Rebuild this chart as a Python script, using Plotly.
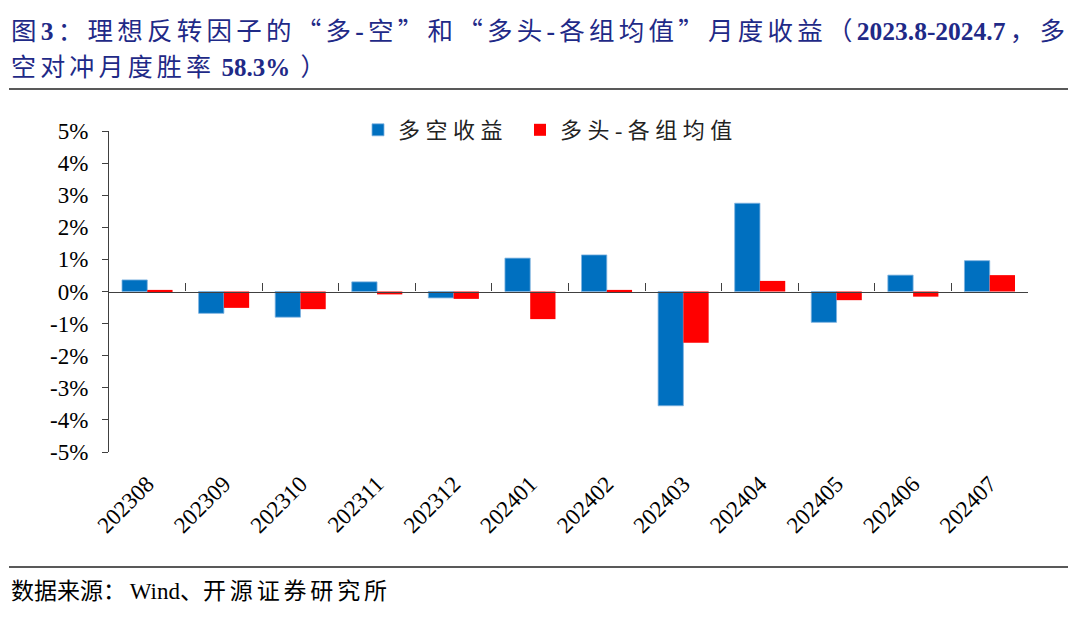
import plotly.graph_objects as go

months = ["202308", "202309", "202310", "202311", "202312", "202401",
          "202402", "202403", "202404", "202405", "202406", "202407"]
long_short = [0.36, -0.68, -0.80, 0.30, -0.20, 1.04, 1.14, -3.56, 2.75, -0.96, 0.51, 0.96]
long_minus_avg = [0.05, -0.51, -0.55, -0.09, -0.23, -0.86, 0.05, -1.60, 0.33, -0.27, -0.16, 0.51]
y_tickvals = [5, 4, 3, 2, 1, 0, -1, -2, -3, -4, -5]
y_ticktext = ["5%", "4%", "3%", "2%", "1%", "0%", "-1%", "-2%", "-3%", "-4%", "-5%"]
series_names = ["多 空 收 益", "多 头 - 各 组 均 值"]

# page body has an 8px margin: work in reference pixel coords and shift
OFF = 8
W, H = 1080 - OFF, 618 - OFF
PL, PR, PT, PB = 109, 1028, 131, 452          # plot area in reference pixels
L, R, T, B = PL - OFF, W - (PR - OFF), PT - OFF, H - (PB - OFF)
pw, ph = PR - PL, PB - PT

def px_x(p):
    return (p - PL) / pw

def px_y(p):
    return (PB - p) / ph

SERIF = "Liberation Serif, Times New Roman, Noto Sans CJK SC, serif"
CJK = "Liberation Serif, Noto Sans CJK SC, sans-serif"
NAVY = "#1F2A87"
SP = "\u2006"
QO = '<span style="font-family:\'Noto Sans CJK SC\'">“</span>'
QC = '<span style="font-family:\'Noto Sans CJK SC\'">”</span>'

fig = go.Figure()
fig.add_trace(go.Bar(x=months, y=long_short, name=series_names[0], legend="legend",
                     marker=dict(color="#0070C0", line=dict(width=0.8, color="#7FB3E0"))))
fig.add_trace(go.Bar(x=months, y=long_minus_avg, name=series_names[1], legend="legend2",
                     marker=dict(color="#FF0000", line=dict(width=0))))
fig.add_trace(go.Scatter(x=list(range(len(months))), y=[None] * len(months), xaxis="x2",
                         showlegend=False, hoverinfo="skip", mode="markers"))

leg_common = dict(orientation="h", yanchor="middle", y=px_y(130), xanchor="left",
                  font=dict(family=CJK, size=22, color="#222222"),
                  itemwidth=30, bgcolor="rgba(0,0,0,0)")

fig.update_layout(
    width=W, height=H,
    margin=dict(l=L, r=R, t=T, b=B),
    paper_bgcolor="white", plot_bgcolor="white",
    barmode="group", bargap=0.34, bargroupgap=0,
    showlegend=True,
    legend=dict(x=px_x(358), **leg_common),
    legend2=dict(x=px_x(520), **leg_common),
    xaxis=dict(type="category", categoryorder="array", categoryarray=months,
               range=[-0.5, len(months) - 0.5],
               anchor="free", position=0.5,
               showline=True, linecolor="#404040", linewidth=1.2,
               ticks="inside", tickson="boundaries", ticklen=8, tickcolor="#404040", tickwidth=1.2,
               showticklabels=False, showgrid=False, zeroline=False),
    xaxis2=dict(overlaying="x", anchor="y", side="bottom", type="linear",
                range=[-0.5, len(months) - 0.5],
                tickmode="array", tickvals=list(range(len(months))), ticktext=months,
                tickangle=-45, ticks="", showline=False, showgrid=False, zeroline=False,
                ticklabelstandoff=13,
                tickfont=dict(family=SERIF, size=23, color="black")),
    yaxis=dict(range=[-5, 5], tickmode="array", tickvals=y_tickvals, ticktext=y_ticktext,
               showline=True, linecolor="#404040", linewidth=1.2,
               ticks="outside", ticklen=6, tickcolor="#404040", tickwidth=1.2,
               showgrid=False, zeroline=False, ticklabelstandoff=9,
               tickfont=dict(family=SERIF, size=23, color="black")),
)

def spread(s):
    return SP.join(list(s))

title1 = SP.join([
    "图", "<b>3</b>", "：", spread("理想反转因子的"), QO, "多", "<b>-</b>", "空", QC, "和",
    QO, spread("多头"), "<b>-</b>", spread("各组均值"), QC, spread("月度收益"), "（",
    "<b>2023.8-2024.7</b>", "，", "多"])
title2 = SP.join([spread("空对冲月度胜率"), " <b>58.3%</b>", " ）"])
fig.add_annotation(text=title1, xref="paper", yref="paper", x=px_x(9), y=px_y(28),
                   xanchor="left", yanchor="middle", showarrow=False,
                   font=dict(family=CJK, size=25.5, color=NAVY))
fig.add_annotation(text=title2, xref="paper", yref="paper", x=px_x(9), y=px_y(67),
                   xanchor="left", yanchor="middle", showarrow=False,
                   font=dict(family=CJK, size=25, color=NAVY))
footer = "数据来源：" + SP + "Wind、" + spread("开源证券研究所")
fig.add_annotation(text=footer, xref="paper", yref="paper",
                   x=px_x(9), y=px_y(591), xanchor="left", yanchor="middle", showarrow=False,
                   font=dict(family=CJK, size=23, color="black"))

for yy in (89, 567):
    fig.add_shape(type="line", xref="paper", yref="paper",
                  x0=px_x(9), x1=px_x(1068), y0=px_y(yy), y1=px_y(yy),
                  line=dict(color="#222222", width=1.5))

fig.write_html("out.html")
